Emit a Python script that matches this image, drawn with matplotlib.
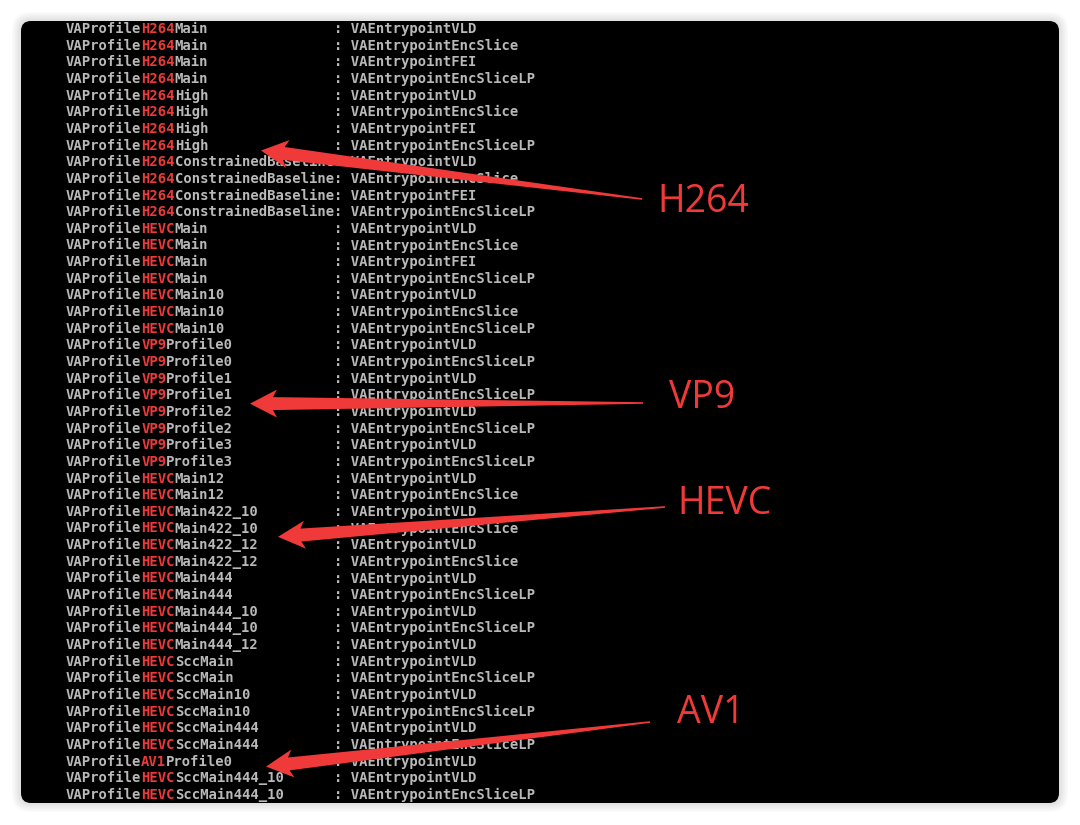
import matplotlib.pyplot as plt
from matplotlib.patches import FancyBboxPatch, Polygon
import numpy as np

# terminal listing: VAProfile<codec><suffix> : VAEntrypoint<entry>
codecs = ["H264"] * 12 + ["HEVC"] * 7 + ["VP9"] * 8 + ["HEVC"] * 17 + ["AV1"] + ["HEVC"] * 2
suffixes = ["Main", "Main", "Main", "Main", "High", "High", "High", "High",
            "ConstrainedBaseline", "ConstrainedBaseline", "ConstrainedBaseline", "ConstrainedBaseline",
            "Main", "Main", "Main", "Main", "Main10", "Main10", "Main10",
            "Profile0", "Profile0", "Profile1", "Profile1", "Profile2", "Profile2", "Profile3", "Profile3",
            "Main12", "Main12", "Main422_10", "Main422_10", "Main422_12", "Main422_12",
            "Main444", "Main444", "Main444_10", "Main444_10", "Main444_12",
            "SccMain", "SccMain", "SccMain10", "SccMain10", "SccMain444", "SccMain444",
            "Profile0", "SccMain444_10", "SccMain444_10"]
entrypoints = ["VLD", "EncSlice", "FEI", "EncSliceLP", "VLD", "EncSlice", "FEI", "EncSliceLP",
               "VLD", "EncSlice", "FEI", "EncSliceLP",
               "VLD", "EncSlice", "FEI", "EncSliceLP", "VLD", "EncSlice", "EncSliceLP",
               "VLD", "EncSliceLP", "VLD", "EncSliceLP", "VLD", "EncSliceLP", "VLD", "EncSliceLP",
               "VLD", "EncSlice", "VLD", "EncSlice", "VLD", "EncSlice",
               "VLD", "EncSliceLP", "VLD", "EncSliceLP", "VLD",
               "VLD", "EncSliceLP", "VLD", "EncSliceLP", "VLD", "EncSliceLP",
               "VLD", "VLD", "EncSliceLP"]

# annotations: label, arrow tip (x px, row), arrow tail (x px, y px), label position (x px, y px)
arrow_labels = ["H264", "VP9", "HEVC", "AV1"]
arrow_tip = [(261, 7.3), (250, 22.5), (278, 30.5), (266, 44.3)]
arrow_tail = [(642, 199), (643, 403), (665, 507), (650, 722)]
label_pos = [(657, 202), (669, 398), (677, 504), (677, 713)]

W, H = 1080, 825
fig = plt.figure(figsize=(10.8, 8.25), dpi=100)
fig.patch.set_facecolor("white")
ax = fig.add_axes([0, 0, 1, 1])
ax.set_xlim(0, W)
ax.set_ylim(H, 0)
ax.axis("off")

# soft shadow + black terminal window
for k in range(6):
    pad = 1.5 + k * 1.5
    ax.add_patch(FancyBboxPatch((21 - pad, 21 - pad), 1038 + 2 * pad, 782 + 2 * pad,
                                boxstyle="round,pad=0,rounding_size=%g" % (10 + pad),
                                fc="black", ec="none", alpha=0.018, zorder=1))
ax.add_patch(FancyBboxPatch((21, 21), 1038, 782, boxstyle="round,pad=0,rounding_size=10",
                            fc="black", ec="none", zorder=2))

grey = "#b9b9b9"
red = "#ec3a3a"
x0 = 66
cw = 8.36          # monospace cell width in px
y0 = 29
dy = 16.65
mono = dict(family="DejaVu Sans Mono", fontsize=10, fontweight="bold",
            va="center", ha="left", zorder=3)


def row_y(r):
    return y0 + r * dy


for i, (c, s, e) in enumerate(zip(codecs, suffixes, entrypoints)):
    y = row_y(i)
    ax.text(x0, y, "VAProfile", color=grey, **mono)
    ax.text(x0 + 9 * cw, y, c, color=red, **mono)
    ax.text(x0 + (9 + len(c)) * cw, y, s, color=grey, **mono)
    ax.text(x0 + 32 * cw, y, ": VAEntrypoint" + e, color=grey, **mono)


def arrow(tip, tail, head_len=27, head_hw=14, shaft_hw=6.5, tail_hw=0.8):
    tip = np.array(tip, float)
    tail = np.array(tail, float)
    u = (tip - tail) / np.linalg.norm(tip - tail)
    n = np.array([-u[1], u[0]])
    base = tip - u * head_len
    join = tip - u * (head_len - 4)
    pts = [tail + n * tail_hw, join + n * shaft_hw, base + n * head_hw, tip,
           base - n * head_hw, join - n * shaft_hw, tail - n * tail_hw]
    return Polygon(pts, closed=True, fc="#f03a3a", ec="none", zorder=4)


arrow_red = "#f03a3a"
for lab, tip, tail, pos in zip(arrow_labels, arrow_tip, arrow_tail, label_pos):
    ax.add_patch(arrow((tip[0], row_y(tip[1])), tail))
    ax.text(pos[0], pos[1], lab, color=arrow_red, family="Open Sans", fontsize=27,
            va="center", ha="left", zorder=5)

fig.savefig("out.png", dpi=100, facecolor="white")
